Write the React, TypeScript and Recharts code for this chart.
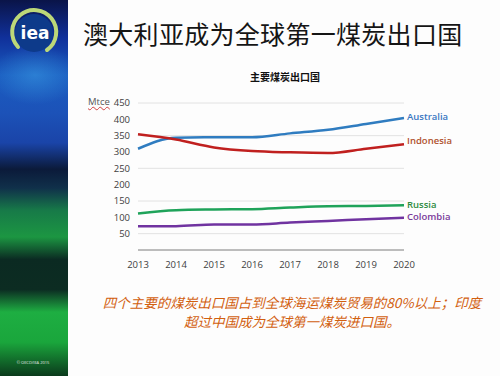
import React from 'react';
import { LineChart, Line, XAxis, YAxis, CartesianGrid, LabelList } from 'recharts';

const years = ['2013', '2014', '2015', '2016', '2017', '2018', '2019', '2020'];
const australia = [310, 344, 345, 345, 357, 368, 386, 404];
const indonesia = [354, 338, 314, 303, 299, 297, 310, 324];
const russia = [112, 122, 124, 125, 130, 134, 135, 137];
const colombia = [73, 73, 78, 78, 84, 89, 94, 99];
const yTicks = [0, 50, 100, 150, 200, 250, 300, 350, 400, 450];

const seriesNames = ['Australia', 'Indonesia', 'Russia', 'Colombia'];
const seriesColors = ['#2f7cc0', '#c0201f', '#1fa35a', '#7033a0'];
const labelColors = ['#3a78c2', '#b0522e', '#2e8b3e', '#7a3a9a'];
const labelDy = [-1, -3, -1, -1];

const data = years.map((y, i) => ({
  year: y,
  Australia: australia[i],
  Indonesia: indonesia[i],
  Russia: russia[i],
  Colombia: colombia[i],
}));

const cjk = '"Noto Sans CJK SC", "Noto Sans", sans-serif';
const latin = '"Open Sans", "Noto Sans", sans-serif';

function makeLabel(idx: number) {
  return (props: any) => {
    const { x, y, index } = props;
    if (index !== years.length - 1) return null;
    return (
      <text
        x={x + 3}
        y={y + labelDy[idx]}
        dy="0.35em"
        fontSize={9.5}
        fontWeight={600}
        fontFamily={latin}
        fill={labelColors[idx]}
      >
        {seriesNames[idx]}
      </text>
    );
  };
}

function Sidebar() {
  return (
    <div
      style={{
        position: 'absolute',
        left: 0,
        top: 0,
        width: 68,
        height: 376,
        background:
          'linear-gradient(180deg, #0a1448 0%, #10309a 10%, #1a5cc0 20%, #1c52b8 30%, #1a44a8 38%, #0b1a3a 45%, #10304a 50%, #177a48 56%, #1c9642 63%, #0b2a22 69%, #0c2c22 77%, #1eae42 83%, #1aa63c 91%, #0b3a1c 100%)',
        overflow: 'hidden',
      }}
    >
      <div
        style={{
          position: 'absolute',
          left: -10,
          top: 45,
          width: 90,
          height: 60,
          background: 'radial-gradient(ellipse at center, rgba(60,160,230,0.5) 0%, rgba(60,160,230,0) 70%)',
        }}
      />
      <svg width={68} height={70} style={{ position: 'absolute', left: 0, top: 0 }}>
        <circle cx={34} cy={33} r={19} fill="#0d3a8a" />
        <path
          d="M 18 47 A 22 22 0 1 1 47 50"
          fill="none"
          stroke="#bcd878"
          strokeWidth={4}
          strokeLinecap="round"
        />
        <text
          x={35}
          y={39}
          textAnchor="middle"
          fontSize={17}
          fontWeight={700}
          fontFamily='"DejaVu Sans", sans-serif'
          fill="#ffffff"
        >
          iea
        </text>
      </svg>
      <div
        style={{
          position: 'absolute',
          left: 0,
          width: 66,
          top: 360,
          textAlign: 'center',
          fontSize: 4,
          color: '#e8e8e8',
          fontFamily: latin,
        }}
      >
        © OECD/IEA 2015
      </div>
    </div>
  );
}

export default function App() {
  return (
    <div
      style={{
        position: 'fixed',
        left: 0,
        top: 0,
        width: 500,
        height: 376,
        background: '#fdfdfd',
        overflow: 'hidden',
      }}
    >
      <Sidebar />
      <div
        style={{
          position: 'absolute',
          left: 83,
          top: 17,
          fontSize: 25,
          lineHeight: '32px',
          fontFamily: cjk,
          color: '#151515',
          whiteSpace: 'nowrap',
          letterSpacing: 0.3,
        }}
      >
        澳大利亚成为全球第一煤炭出口国
      </div>
      <div
        style={{
          position: 'absolute',
          left: 185,
          width: 200,
          top: 70,
          textAlign: 'center',
          fontSize: 10,
          lineHeight: '14px',
          fontWeight: 700,
          fontFamily: cjk,
          color: '#111',
        }}
      >
        主要煤炭出口国
      </div>
      <div
        style={{
          position: 'absolute',
          left: 88,
          top: 96,
          fontSize: 9.5,
          lineHeight: '12px',
          fontFamily: latin,
          color: '#555',
          textDecoration: 'underline wavy #d04040',
          textDecorationThickness: 1,
        }}
      >
        Mtce
      </div>
      <div style={{ position: 'absolute', left: 0, top: 0 }}>
        <LineChart
          width={500}
          height={376}
          data={data}
          margin={{ top: 103, right: 96, bottom: 96, left: 98 }}
        >
          <CartesianGrid vertical={false} stroke="#e2e2e2" strokeWidth={1} />
          <XAxis
            dataKey="year"
            axisLine={{ stroke: '#8a8a8a', strokeWidth: 1.2 }}
            tickLine={false}
            height={30}
            tickMargin={5}
            tick={{ fontSize: 9.5, fill: '#404040', fontFamily: latin }}
            interval={0}
          />
          <YAxis
            width={40}
            domain={[0, 450]}
            ticks={yTicks}
            axisLine={false}
            tickLine={false}
            tickFormatter={(v: number) => (v === 0 ? '' : String(v))}
            tick={{ fontSize: 9.5, fill: '#404040', fontFamily: latin }}
          />
          {seriesNames.map((name, idx) => (
            <Line
              key={name}
              type="monotone"
              dataKey={name}
              stroke={seriesColors[idx]}
              strokeWidth={2.5}
              dot={false}
              activeDot={false}
              isAnimationActive={false}
            >
              <LabelList dataKey={name} content={makeLabel(idx)} />
            </Line>
          ))}
        </LineChart>
      </div>
      <div
        style={{
          position: 'absolute',
          left: 86,
          width: 412,
          top: 293,
          textAlign: 'center',
          fontSize: 13.5,
          lineHeight: '19px',
          fontStyle: 'italic',
          fontFamily: cjk,
          color: '#d2600f',
          whiteSpace: 'nowrap',
        }}
      >
        <div>四个主要的煤炭出口国占到全球海运煤炭贸易的80%以上；印度</div>
        <div>超过中国成为全球第一煤炭进口国。</div>
      </div>
    </div>
  );
}
